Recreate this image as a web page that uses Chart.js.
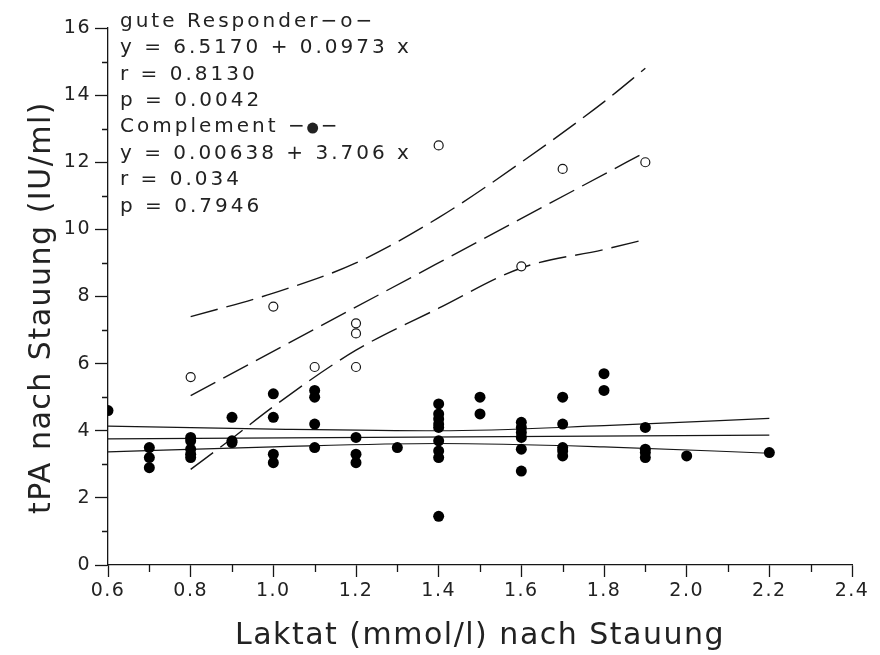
<!DOCTYPE html>
<html>
<head>
<meta charset="utf-8">
<script src="https://cdn.jsdelivr.net/npm/chart.js@4.4.0/dist/chart.umd.min.js"></script>
<style>
  html, body { margin: 0; padding: 0; background: #fff; }
</style>
</head>
<body>
<canvas id="plot" width="880" height="655"></canvas>
<script>
// ---- values ----
// "gute Responder" (open circles)
const respX = [0.8, 1.0, 1.1, 1.2, 1.2, 1.2, 1.4, 1.6, 1.7, 1.9];
const respY = [5.6, 7.7, 5.9, 7.2, 6.9, 5.9, 12.5, 8.9, 11.8, 12.0];

// "Complement" (filled dots)
const compX = [0.6, 0.7, 0.7, 0.7, 0.8, 0.8, 0.8, 0.8, 0.8, 0.9, 0.9, 0.9,
  1.0, 1.0, 1.0, 1.0, 1.1, 1.1, 1.1, 1.1, 1.2, 1.2, 1.2, 1.3,
  1.4, 1.4, 1.4, 1.4, 1.4, 1.4, 1.4, 1.4, 1.4, 1.5, 1.5,
  1.6, 1.6, 1.6, 1.6, 1.6, 1.6, 1.7, 1.7, 1.7, 1.7, 1.7,
  1.8, 1.8, 1.9, 1.9, 1.9, 1.9, 2.0, 2.2];
const compY = [4.6, 3.5, 3.2, 2.9, 3.8, 3.7, 3.45, 3.3, 3.2, 4.4, 3.7, 3.65,
  5.1, 4.4, 3.3, 3.05, 5.2, 5.0, 4.2, 3.5, 3.8, 3.3, 3.05, 3.5,
  4.8, 4.5, 4.35, 4.2, 4.1, 3.7, 3.4, 3.2, 1.45, 5.0, 4.5,
  4.25, 4.1, 3.95, 3.8, 3.45, 2.8, 5.0, 4.2, 3.5, 3.4, 3.25,
  5.7, 5.2, 4.1, 3.45, 3.35, 3.2, 3.25, 3.35];

// regression line and confidence band, responders (dashed)
const respFitX = [0.8, 1.9];
const respFitY = [5.05, 12.3];
const respUpX = [0.8, 1.0, 1.2, 1.4, 1.6, 1.8, 1.9];
const respUpY = [7.4, 8.1, 9.0, 10.35, 12.0, 13.8, 14.8];
const respLoX = [0.8, 0.9, 1.0, 1.2, 1.4, 1.6, 1.8, 1.9];
const respLoY = [2.85, 3.77, 4.72, 6.4, 7.65, 8.85, 9.4, 9.7];

// regression line and confidence band, complement (solid)
const compFitX = [0.6, 2.2];
const compFitY = [3.76, 3.87];
const compUpX = [0.6, 1.0, 1.4, 1.8, 2.2];
const compUpY = [4.14, 4.05, 4.0, 4.15, 4.37];
const compLoX = [0.6, 1.0, 1.4, 1.8, 2.2];
const compLoY = [3.37, 3.52, 3.62, 3.52, 3.33];

// axis ticks
const xTicks = [0.6, 0.8, 1.0, 1.2, 1.4, 1.6, 1.8, 2.0, 2.2, 2.4];
const yTicks = [0, 2, 4, 6, 8, 10, 12, 14, 16];

// text block in the upper left
const notes = [
  "gute Responder\u2212o\u2212",
  "y = 6.5170 + 0.0973 x",
  "r = 0.8130",
  "p = 0.0042",
  "Complement \u2212",
  "y = 0.00638 + 3.706 x",
  "r = 0.034",
  "p = 0.7946"
];

const FONT = '"DejaVu Sans", sans-serif';
const INK = '#161616';
const TXT = '#222';

const pts = (xs, ys) => xs.map((x, i) => ({ x: x, y: ys[i] }));

function lineSet(xs, ys, dashed) {
  return {
    data: pts(xs, ys),
    showLine: true,
    pointRadius: 0,
    pointHoverRadius: 0,
    borderColor: INK,
    borderWidth: dashed ? 1.4 : 1.2,
    borderDash: dashed ? [28, 9] : [],
    cubicInterpolationMode: 'monotone',
    fill: false
  };
}

// ------------------------- PLUGINS -------------------------
const spacing = {
  id: 'spacing',
  beforeDraw(chart) {
    chart.ctx.letterSpacing = '1.5px';
  }
};

const minorTicks = {
  id: 'minorTicks',
  afterDraw(chart) {
    const ctx = chart.ctx;
    const xs = chart.scales.x, ys = chart.scales.y;
    ctx.save();
    ctx.strokeStyle = INK;
    ctx.lineWidth = 1.3;
    ctx.beginPath();
    for (let i = 0; i < xs.ticks.length - 1; i++) {
      const px = Math.round(xs.getPixelForValue((xs.ticks[i].value + xs.ticks[i + 1].value) / 2)) + 0.5;
      ctx.moveTo(px, xs.top);
      ctx.lineTo(px, xs.top + 7);
    }
    for (let i = 0; i < ys.ticks.length - 1; i++) {
      const py = Math.round(ys.getPixelForValue((ys.ticks[i].value + ys.ticks[i + 1].value) / 2)) + 0.5;
      ctx.moveTo(ys.right - 6, py);
      ctx.lineTo(ys.right, py);
    }
    ctx.stroke();
    ctx.restore();
  }
};

const noteBlock = {
  id: 'noteBlock',
  afterDraw(chart) {
    const ctx = chart.ctx;
    ctx.save();
    ctx.font = '20px ' + FONT;
    ctx.letterSpacing = '3px';
    ctx.fillStyle = TXT;
    ctx.textBaseline = 'middle';
    notes.forEach((t, i) => {
      const y = 21.5 + i * 26.4;
      ctx.fillText(t, 120, y);
      if (i === 4) {
        // filled dot symbol of the complement group
        const w = ctx.measureText(t).width;
        ctx.beginPath();
        ctx.arc(120 + w + 5, y + 1, 5.5, 0, Math.PI * 2);
        ctx.fill();
        ctx.fillText("\u2212", 120 + w + 13, y);
      }
    });
    ctx.restore();
  }
};

// ------------------------- CHART -------------------------
new Chart(document.getElementById('plot'), {
  type: 'scatter',
  data: {
    datasets: [
      {
        data: pts(respX, respY),
        pointRadius: 4.5,
        pointBackgroundColor: '#fff',
        pointBorderColor: INK,
        pointBorderWidth: 1.2
      },
      {
        data: pts(compX, compY),
        pointRadius: 5.5,
        pointBackgroundColor: '#000',
        pointBorderColor: '#000',
        pointBorderWidth: 0
      },
      lineSet(respFitX, respFitY, true),
      lineSet(respUpX, respUpY, true),
      lineSet(respLoX, respLoY, true),
      lineSet(compFitX, compFitY, false),
      lineSet(compUpX, compUpY, false),
      lineSet(compLoX, compLoY, false)
    ]
  },
  options: {
    responsive: false,
    animation: false,
    devicePixelRatio: 1,
    layout: { padding: { top: 28, right: 28, left: 0, bottom: 0 } },
    plugins: {
      legend: { display: false },
      tooltip: { enabled: false }
    },
    scales: {
      x: {
        type: 'linear',
        min: xTicks[0],
        max: xTicks[xTicks.length - 1],
        afterBuildTicks: s => { s.ticks = xTicks.map(v => ({ value: v })); },
        afterFit: s => { s.height = 90; },
        ticks: {
          callback: v => v.toFixed(1),
          font: { family: FONT, size: 19 },
          color: TXT,
          padding: 3,
          maxRotation: 0
        },
        grid: {
          drawOnChartArea: false,
          drawTicks: true,
          tickLength: 12,
          tickColor: INK,
          tickWidth: 1.3
        },
        border: { display: true, color: INK, width: 1.3 },
        title: {
          display: true,
          text: 'Laktat (mmol/l) nach Stauung',
          font: { family: FONT, size: 30 },
          color: TXT,
          padding: { top: 0, bottom: 1 }
        }
      },
      y: {
        type: 'linear',
        min: yTicks[0],
        max: yTicks[yTicks.length - 1],
        afterBuildTicks: s => { s.ticks = yTicks.map(v => ({ value: v })); },
        afterFit: s => { s.width = 108; },
        ticks: {
          font: { family: FONT, size: 19 },
          color: TXT,
          padding: 4
        },
        grid: {
          drawOnChartArea: false,
          drawTicks: true,
          tickLength: 13,
          tickColor: INK,
          tickWidth: 1.3
        },
        border: { display: true, color: INK, width: 1.3 },
        title: {
          display: true,
          // trailing spaces push the centred title a little lower, as in the figure
          text: 'tPA nach Stauung (IU/ml)  ',
          font: { family: FONT, size: 30 },
          color: TXT,
          padding: { top: 24, bottom: 0 }
        }
      }
    }
  },
  plugins: [spacing, minorTicks, noteBlock]
});
</script>
</body>
</html>
